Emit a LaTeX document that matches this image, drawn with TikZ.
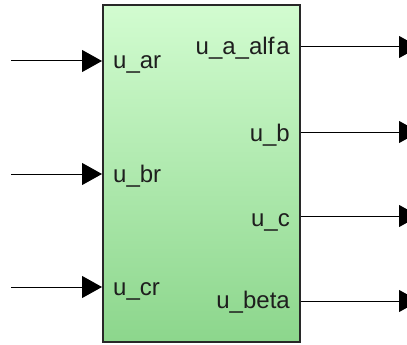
\documentclass[tikz,border=0pt]{standalone}
\usepackage{fontspec}
\setmainfont{Liberation Sans}
\usetikzlibrary{arrows.meta}
\definecolor{topg}{RGB}{210,252,208}
\definecolor{botg}{RGB}{140,214,140}
\definecolor{edge}{RGB}{40,40,40}
\definecolor{txt}{RGB}{30,30,30}
\begin{document}
\begin{tikzpicture}[x=1pt,y=-1pt,
  sig/.style={draw=black, line width=1pt, -{Triangle[length=20pt,width=22pt]}},
  lbl/.style={inner sep=0pt, font=\fontsize{24}{24}\selectfont, text=txt}]
\useasboundingbox (0,0) rectangle (407,345);
\node[draw=edge, line width=2pt, top color=topg, bottom color=botg,
      minimum width=197pt, minimum height=337pt, inner sep=0pt] (blk) at (201.5,173.5) {};
% input free ends
\coordinate (i1) at (11,61);
\coordinate (i2) at (11,174);
\coordinate (i3) at (11,287);
\coordinate (o1) at (419,47);
\coordinate (o2) at (419,132);
\coordinate (o3) at (419,216);
\coordinate (o4) at (419,301);
\draw[sig] (i1) -- (i1 -| blk.west);
\draw[sig] (i2) -- (i2 -| blk.west);
\draw[sig] (i3) -- (i3 -| blk.west);
\draw[sig] (o1 -| blk.east) -- (o1);
\draw[sig] (o2 -| blk.east) -- (o2);
\draw[sig] (o3 -| blk.east) -- (o3);
\draw[sig] (o4 -| blk.east) -- (o4);
% labels
\node[lbl, anchor=base west] (l1) at (113,69) {u\_ar};
\node[lbl, anchor=base west] (l2) at (113,182) {u\_br};
\node[lbl, anchor=base west] (l3) at (113,295) {u\_cr};
\node[lbl, anchor=base east] (r1) at (290,55) {u\_a\_alf\kern2pt a};
\node[lbl, anchor=base east] (r2) at (290,141) {u\_b};
\node[lbl, anchor=base east] (r3) at (290,226) {u\_c};
\node[lbl, anchor=base east] (r4) at (290,308) {u\_beta};
\end{tikzpicture}
\end{document}
